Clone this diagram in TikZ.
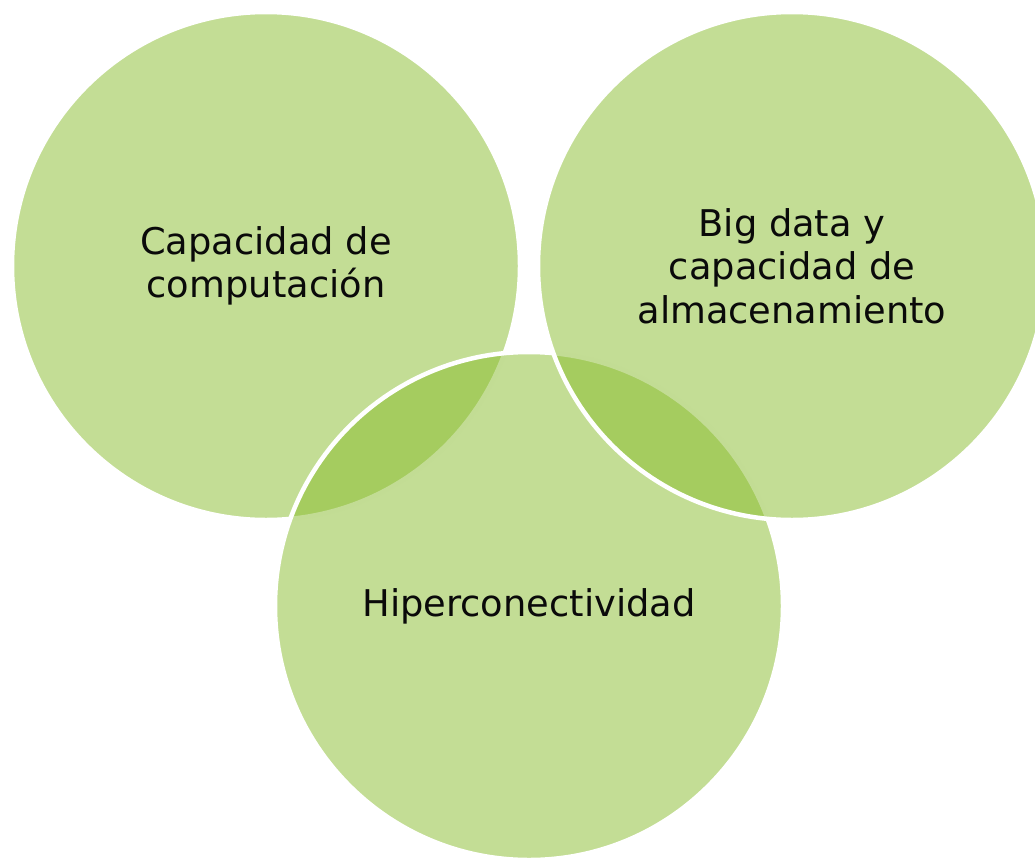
\documentclass[tikz,border=0pt]{standalone}
\usepackage{fontspec}
\setmainfont{DejaVu Sans}
\definecolor{bubblegreen}{RGB}{135,187,43}
\definecolor{textdark}{RGB}{10,10,10}
\begin{document}
\begin{tikzpicture}[x=1pt,y=-1pt,
  bubble/.style={circle, minimum size=508pt, inner sep=0pt, outer sep=0pt,
    fill=bubblegreen, fill opacity=0.5, draw=white, draw opacity=1,
    line width=4.5pt, text opacity=1, text=textdark, align=center,
    font=\fontsize{36.8}{43.5}\selectfont}]
\path[use as bounding box, clip] (0,0) rectangle (1035,859);
\node[bubble] (comp) at (266,266) {Capacidad de\\computación};
\node[bubble] (hiper) at (529,606) {Hiperconectividad};
\node[bubble] (big) at (792,266) {Big data y\\capacidad de\\almacenamiento};
\end{tikzpicture}
\end{document}
